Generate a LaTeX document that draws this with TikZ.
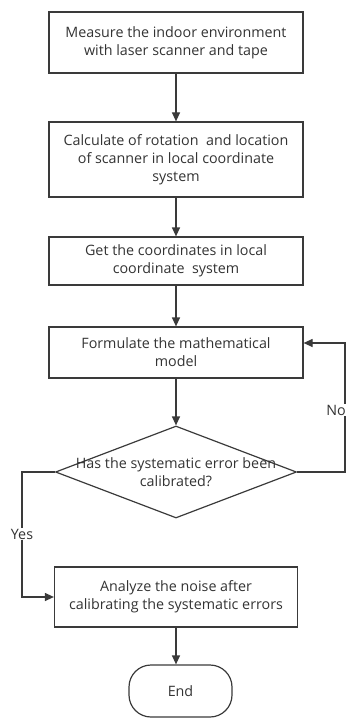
\documentclass[tikz,border=0pt]{standalone}
\usepackage{fontspec}
\setmainfont{Open Sans}
\usetikzlibrary{arrows.meta,shapes.geometric}

\definecolor{linegray}{HTML}{3A3A3A}
\definecolor{textgray}{HTML}{333333}

\tikzset{
  procbox/.style={draw=linegray, line width=1.2pt, rectangle, text=textgray,
    align=center, inner sep=0pt, font=\fontsize{14.3}{18}\selectfont},
  decision/.style={draw=linegray, line width=1.2pt, diamond, inner sep=0pt},
  terminal/.style={draw=linegray, line width=1.2pt, rectangle, rounded corners=22pt,
    text=textgray, font=\fontsize{14.3}{18}\selectfont},
  flowline/.style={draw=linegray, line width=1.2pt, -{Triangle[length=9pt,width=8pt]}},
  branch/.style={fill=white, text=textgray, inner sep=1pt, font=\fontsize{14.3}{18}\selectfont}
}

\begin{document}
\begin{tikzpicture}[x=1pt,y=-1pt]
  \useasboundingbox (0,0) rectangle (349,719);
  % process steps
  \node[procbox, minimum width=254pt, minimum height=61pt] (measure) at (176,42.5)
    {Measure the indoor environment\\with laser scanner and tape};
  \node[procbox, minimum width=254pt, minimum height=75pt] (calc) at (176,159.5)
    {Calculate of rotation\ \ and location\\of scanner in local coordinate\\system};
  \node[procbox, minimum width=254pt, minimum height=48pt] (coords) at (176,261)
    {Get the coordinates in local\\coordinate\ \ system};
  \node[procbox, minimum width=254pt, minimum height=51pt] (model) at (176,352.5)
    {Formulate the mathematical\\model};
  \node[decision, minimum width=241pt, minimum height=92pt] (check) at (176,472) {};
  \node[text=textgray, align=center, font=\fontsize{14.3}{18}\selectfont] (checktext) at (check.center)
    {Has the systematic error been\\calibrated?};
  \node[procbox, minimum width=243pt, minimum height=60pt] (noise) at (176,597)
    {Analyze the noise after\\calibrating the systematic errors};
  \node[terminal, minimum width=103pt, minimum height=52pt] (end) at (180.5,691) {End};

  % connectors
  \draw[flowline] (measure) -- (calc);
  \draw[flowline] (calc) -- (coords);
  \draw[flowline] (coords) -- (model);
  \draw[flowline] (model) -- (check);
  \draw[flowline] (check.east) -| (345,343) coordinate (nocorner) -- (model.east |- nocorner);
  \draw[flowline] (check.west) -| (22,597) coordinate (yescorner) -- (noise.west);
  \draw[flowline] (noise.south) -- (noise.south |- end.north);

  % branch labels
  \node[branch] (nolabel) at (336,410) {No};
  \node[branch] (yeslabel) at (22,534) {Yes};
\end{tikzpicture}
\end{document}
